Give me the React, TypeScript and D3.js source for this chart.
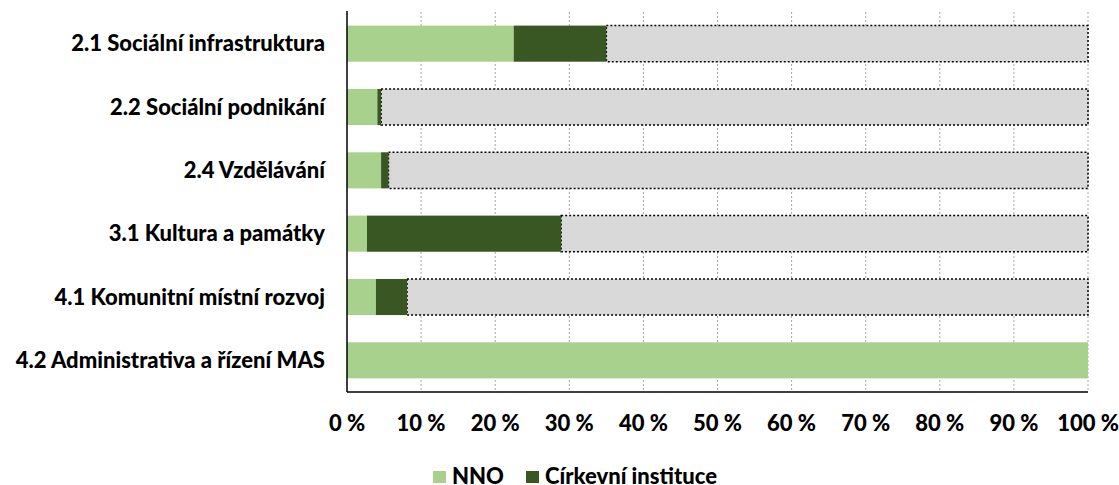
import React, { useEffect, useRef } from 'react'
import * as d3 from 'd3'

const categories = [
  '2.1 Sociální infrastruktura',
  '2.2 Sociální podnikání',
  '2.4 Vzdělávání',
  '3.1 Kultura a památky',
  '4.1 Komunitní místní rozvoj',
  '4.2 Administrativa a řízení MAS',
]
const nno = [22.5, 4.1, 4.6, 2.7, 3.9, 100]
const cirkev = [12.5, 0.5, 1.0, 26.2, 4.2, 0]
const tickValues = [0, 10, 20, 30, 40, 50, 60, 70, 80, 90, 100]
const legendItems = [
  { label: 'NNO', color: '#a9d18e' },
  { label: 'Církevní instituce', color: '#385723' },
]

const W = 1119
const H = 485
const FONT = 'Lato, "Open Sans", sans-serif'

export default function App() {
  const svgRef = useRef<SVGSVGElement>(null)

  useEffect(() => {
    if (!svgRef.current) return
    const root = d3.select(svgRef.current)
    root.selectAll('*').remove()

    const margin = { top: 12, right: 31, bottom: 93, left: 347 }
    const innerW = W - margin.left - margin.right
    const innerH = H - margin.top - margin.bottom

    const g = root.append('g').attr('transform', `translate(${margin.left},${margin.top})`)

    const x = d3.scaleLinear().domain([0, 100]).range([0, innerW])
    const y = d3.scaleBand().domain(categories).range([0, innerH]).paddingInner(0.43).paddingOuter(0.215)

    // grid
    g.selectAll('.grid')
      .data(tickValues.slice(1))
      .join('line')
      .attr('x1', (d) => x(d))
      .attr('x2', (d) => x(d))
      .attr('y1', 0)
      .attr('y2', innerH)
      .attr('stroke', '#a6a6a6')
      .attr('stroke-width', 1)
      .attr('stroke-dasharray', '2,2')

    const rows = categories.map((c, i) => ({ c, a: nno[i], b: cirkev[i] }))

    // rest (gray)
    g.selectAll('.rest')
      .data(rows.filter((r) => r.a + r.b < 100))
      .join('rect')
      .attr('x', (d) => x(d.a + d.b))
      .attr('y', (d) => y(d.c)!)
      .attr('width', (d) => x(100) - x(d.a + d.b))
      .attr('height', y.bandwidth())
      .attr('fill', '#d9d9d9')
      .attr('stroke', '#000')
      .attr('stroke-width', 1.5)
      .attr('stroke-dasharray', '2,2')

    g.selectAll('.nno')
      .data(rows)
      .join('rect')
      .attr('x', 0)
      .attr('y', (d) => y(d.c)!)
      .attr('width', (d) => x(d.a))
      .attr('height', y.bandwidth())
      .attr('fill', legendItems[0].color)

    g.selectAll('.cirkev')
      .data(rows.filter((r) => r.b > 0))
      .join('rect')
      .attr('x', (d) => x(d.a))
      .attr('y', (d) => y(d.c)!)
      .attr('width', (d) => x(d.a + d.b) - x(d.a))
      .attr('height', y.bandwidth())
      .attr('fill', legendItems[1].color)

    // axes lines
    g.append('line').attr('x1', 0).attr('x2', 0).attr('y1', -1).attr('y2', innerH).attr('stroke', '#000').attr('stroke-width', 1.5)
    g.append('line').attr('x1', 0).attr('x2', innerW).attr('y1', innerH).attr('y2', innerH).attr('stroke', '#000').attr('stroke-width', 1.5)

    // category labels
    g.selectAll('.cat')
      .data(categories)
      .join('text')
      .attr('x', -22)
      .attr('y', (d) => y(d)! + y.bandwidth() / 2)
      .attr('dy', '0.35em')
      .attr('text-anchor', 'end')
      .attr('font-family', FONT)
      .attr('font-weight', 900)
      .attr('font-size', 22)
      .attr('fill', '#000')
      .text((d) => d)

    // tick labels
    g.selectAll('.tick')
      .data(tickValues)
      .join('text')
      .attr('x', (d) => x(d))
      .attr('y', innerH + 31)
      .attr('dy', '0.35em')
      .attr('text-anchor', 'middle')
      .attr('font-family', FONT)
      .attr('font-weight', 900)
      .attr('font-size', 22)
      .attr('fill', '#000')
      .text((d) => `${d} %`)

    // legend
    const legendX = [433, 526]
    const lg = root.append('g')
    legendItems.forEach((it, i) => {
      lg.append('rect').attr('x', legendX[i]).attr('y', 471).attr('width', 13).attr('height', 12).attr('fill', it.color)
      lg.append('text')
        .attr('x', legendX[i] + 19)
        .attr('y', 476)
        .attr('dy', '0.35em')
        .attr('font-family', FONT)
        .attr('font-weight', 900)
        .attr('font-size', 22)
        .attr('fill', '#000')
        .text(it.label)
    })
  }, [])

  return (
    <svg
      ref={svgRef}
      width={W}
      height={H}
      style={{ position: 'absolute', left: 0, top: 0, background: '#fff' }}
    />
  )
}
